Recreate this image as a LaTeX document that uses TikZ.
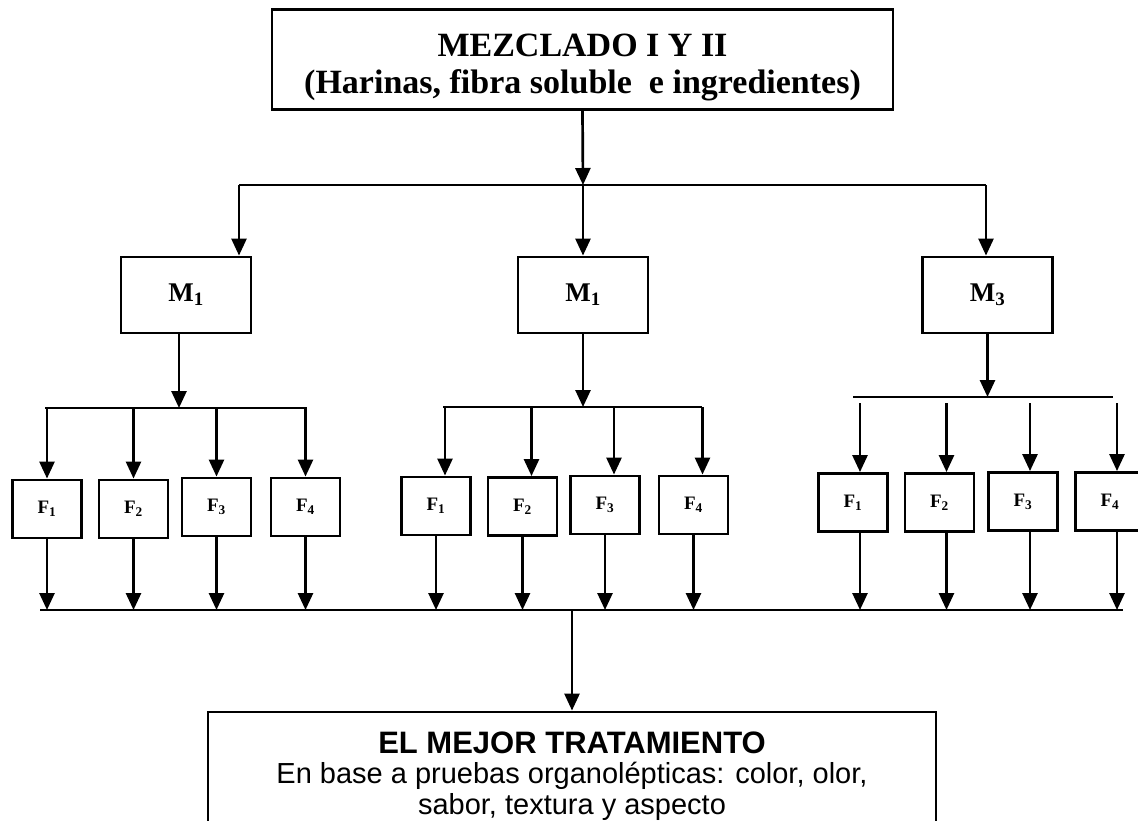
\documentclass[tikz,border=0pt]{standalone}
\usepackage{fontspec}
\setmainfont{Liberation Serif}
\newfontfamily\arialfont{Liberation Sans}
\usetikzlibrary{arrows.meta}

\tikzset{
    box/.style={draw, line width=2.9pt, inner sep=0pt, align=center},
    mixbox/.style={box, minimum width=621, minimum height=100, font=\bfseries\fontsize{34}{37}\selectfont},
    mbox/.style={box, minimum width=130, minimum height=76, font=\bfseries\fontsize{27}{30}\selectfont},
    fbox/.style={box, minimum width=69, minimum height=58, font=\bfseries\fontsize{19}{22}\selectfont},
    bestbox/.style={box, minimum width=728, minimum height=128, font=\arialfont\fontsize{29}{30.5}\selectfont},
    bar/.style={line width=2.7pt},
    arr/.style={line width=2.7pt, -{Triangle[length=17pt,width=15pt]}},
}

\begin{document}
\begin{tikzpicture}[x=1pt, y=-1pt]
    \useasboundingbox (0,0) rectangle (1138,820);
    \clip (0,0) rectangle (1138,820);

    \node[mixbox] (mix) at (582.5,59.5) {\rule{0pt}{38pt}MEZCLADO I Y II\\(Harinas, fibra soluble \ e ingredientes)};

    \node[mbox] (m1) at (186,295) {M\textsubscript{1}};
    \node[mbox] (m2) at (583,295) {M\textsubscript{1}};
    \node[mbox] (m3) at (987.5,295) {M\textsubscript{3}};

    \node[fbox] (f11) at (47,509) {F\textsubscript{1}};
    \node[fbox] (f12) at (133.5,509) {F\textsubscript{2}};
    \node[fbox] (f13) at (216.5,507) {F\textsubscript{3}};
    \node[fbox] (f14) at (305.5,507) {F\textsubscript{4}};

    \node[fbox] (f21) at (436,506) {F\textsubscript{1}};
    \node[fbox] (f22) at (522.5,506.5) {F\textsubscript{2}};
    \node[fbox] (f23) at (605,505) {F\textsubscript{3}};
    \node[fbox] (f24) at (693.5,505) {F\textsubscript{4}};

    \node[fbox] (f31) at (853,502.5) {F\textsubscript{1}};
    \node[fbox] (f32) at (939.5,502.5) {F\textsubscript{2}};
    \node[fbox] (f33) at (1023,501.5) {F\textsubscript{3}};
    \node[fbox] (f34) at (1110,501.5) {F\textsubscript{4}};

    \node[bestbox] (best) at (572,776) {{\bfseries\fontsize{31}{31}\selectfont EL MEJOR TRATAMIENTO}\\En base a pruebas organolépticas: color, olor,\\sabor, textura y aspecto};

    \coordinate (top-l) at (239,185);
    \coordinate (top-c) at (583,185);
    \coordinate (top-r) at (986,185);
    \coordinate (sub1-l) at (45,408);
    \coordinate (sub1-r) at (307,408);
    \coordinate (sub2-l) at (443,407);
    \coordinate (sub2-r) at (702,407);
    \coordinate (sub3-l) at (853,397);
    \coordinate (sub3-r) at (1113,397);
    \coordinate (low-l) at (40,610);
    \coordinate (low-r) at (1123,610);

    % mezclado -> M
    \draw[arr] (mix.south) -- (top-c);
    \draw[bar] (top-l) -- (top-r);
    \draw[arr] (top-l) -- (top-l |- m1.north);
    \draw[arr] (top-c) -- (m2.north);
    \draw[arr] (top-r) -- (top-r |- m3.north);

    % M -> F
    \draw[arr] ([xshift=-7pt]m1.south) -- ([xshift=-7pt]m1.south |- sub1-l);
    \draw[arr] (m2.south) -- (m2.south |- sub2-l);
    \draw[arr] (m3.south) -- (m3.south |- sub3-l);
    \draw[bar] (sub1-l) -- (sub1-r);
    \draw[bar] (sub2-l) -- (sub2-r);
    \draw[bar] (sub3-l) -- (sub3-r);

    \draw[arr] (f11.north |- sub1-l) -- (f11.north);
    \draw[arr] (f12.north |- sub1-l) -- (f12.north);
    \draw[arr] (f13.north |- sub1-l) -- (f13.north);
    \draw[arr] (f14.north |- sub1-l) -- (f14.north);
    \draw[arr] ([xshift=9pt]f21.north |- sub2-l) -- ([xshift=9pt]f21.north);
    \draw[arr] ([xshift=9pt]f22.north |- sub2-l) -- ([xshift=9pt]f22.north);
    \draw[arr] ([xshift=9pt]f23.north |- sub2-l) -- ([xshift=9pt]f23.north);
    \draw[arr] ([xshift=9pt]f24.north |- sub2-l) -- ([xshift=9pt]f24.north);
    \draw[arr] ([shift={(7pt,-6pt)}]f31.north |- sub3-l) -- ([xshift=7pt]f31.north);
    \draw[arr] ([shift={(7pt,-6pt)}]f32.north |- sub3-l) -- ([xshift=7pt]f32.north);
    \draw[arr] ([shift={(7pt,-6pt)}]f33.north |- sub3-l) -- ([xshift=7pt]f33.north);
    \draw[arr] ([shift={(7pt,-6pt)}]f34.north |- sub3-l) -- ([xshift=7pt]f34.north);

    % F -> mejor tratamiento
    \draw[arr] (f11.south) -- (f11.south |- low-l);
    \draw[arr] (f12.south) -- (f12.south |- low-l);
    \draw[arr] (f13.south) -- (f13.south |- low-l);
    \draw[arr] (f14.south) -- (f14.south |- low-l);
    \draw[arr] (f21.south) -- (f21.south |- low-l);
    \draw[arr] (f22.south) -- (f22.south |- low-l);
    \draw[arr] (f23.south) -- (f23.south |- low-l);
    \draw[arr] (f24.south) -- (f24.south |- low-l);
    \draw[arr] ([xshift=7pt]f31.south) -- ([xshift=7pt]f31.south |- low-l);
    \draw[arr] ([xshift=7pt]f32.south) -- ([xshift=7pt]f32.south |- low-l);
    \draw[arr] ([xshift=7pt]f33.south) -- ([xshift=7pt]f33.south |- low-l);
    \draw[arr] ([xshift=7pt]f34.south) -- ([xshift=7pt]f34.south |- low-l);
    \draw[bar] (low-l) -- (low-r);
    \draw[arr] (best.north |- low-l) -- (best.north);
\end{tikzpicture}
\end{document}
